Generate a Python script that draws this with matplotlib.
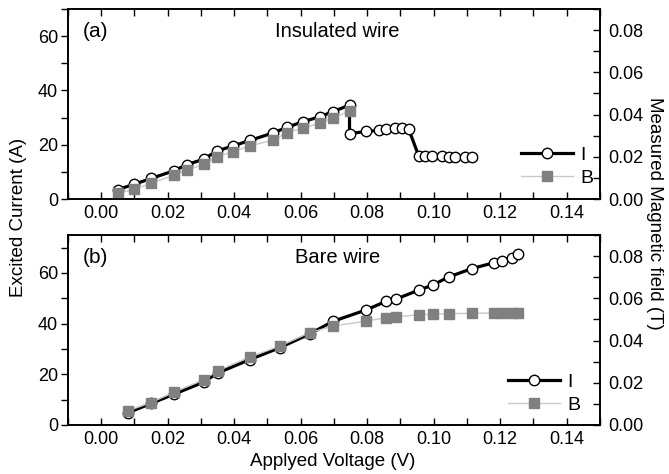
import matplotlib
matplotlib.use("Agg")
import matplotlib.pyplot as plt
from matplotlib.ticker import MultipleLocator

plt.rcParams["font.family"] = ["Liberation Sans", "DejaVu Sans"]
plt.rcParams["font.size"] = 13

# (a) insulated wire
va_I = [0.005, 0.010, 0.015, 0.0218, 0.0258, 0.0308, 0.0348, 0.0397, 0.0447,
        0.0518, 0.0558, 0.0607, 0.0657, 0.0697, 0.0747, 0.0747, 0.0797, 0.0835,
        0.0857, 0.0885, 0.0905, 0.0925, 0.0955, 0.0975, 0.0995, 0.1025, 0.1045,
        0.1065, 0.1095, 0.1115]
Ia = [3.5, 5.5, 7.6, 10.4, 12.7, 14.7, 17.7, 19.6, 21.6, 24.4, 26.4, 28.5,
      30.3, 32.2, 34.6, 24.1, 24.9, 25.3, 25.7, 26.2, 26.0, 25.8, 15.9, 15.9,
      15.9, 15.8, 15.6, 15.4, 15.6, 15.4]
va_B = [0.005, 0.010, 0.015, 0.0218, 0.0258, 0.0308, 0.0348, 0.0397, 0.0447,
        0.0518, 0.0558, 0.0607, 0.0657, 0.0697, 0.0747]
Ba = [0.0027, 0.0047, 0.0074, 0.0113, 0.0137, 0.0164, 0.0200, 0.0225, 0.0252,
      0.0279, 0.0315, 0.0335, 0.0360, 0.0384, 0.0416]

# (b) bare wire
vb = [0.008, 0.015, 0.022, 0.0308, 0.035, 0.0447, 0.0537, 0.0627, 0.0697,
      0.0797, 0.0857, 0.0887, 0.0955, 0.0997, 0.1045, 0.1115, 0.1183, 0.1205,
      0.1235, 0.1255]
Ib = [4.8, 8.5, 12.2, 16.9, 20.5, 25.8, 30.5, 35.9, 40.9, 45.4, 48.8, 49.7,
      53.2, 55.2, 58.4, 61.7, 64.1, 64.7, 65.8, 67.3]
Bb = [0.0067, 0.0106, 0.0156, 0.0214, 0.0257, 0.0322, 0.0373, 0.0437, 0.0468,
      0.0492, 0.0508, 0.0513, 0.0521, 0.0524, 0.0527, 0.0529, 0.0530, 0.0530,
      0.0530, 0.0530]

fig = plt.figure(figsize=(6.69, 4.74), dpi=100)
ax1 = fig.add_axes([0.1016, 0.580, 0.795, 0.401])
ax2 = fig.add_axes([0.1016, 0.1034, 0.795, 0.401])


def panel(ax, xI, I, xB, B, ymax, tag, title, leg_xy):
    axr = ax.twinx()
    hI, = ax.plot(xI, I, "-o", color="black", lw=2.3, ms=7.5,
                  mfc="white", mec="black", mew=1.0, label="I")
    hB, = axr.plot(xB, B, "-s", color="#c8c8c8", lw=1.0, ms=6.5,
                   mfc="#808080", mec="#808080", label="B")
    ax.set_xlim(-0.01, 0.15)
    ax.set_ylim(0, ymax)
    axr.set_ylim(0, 0.09)
    ax.xaxis.set_major_locator(MultipleLocator(0.02))
    ax.xaxis.set_minor_locator(MultipleLocator(0.01))
    ax.yaxis.set_major_locator(MultipleLocator(20))
    ax.yaxis.set_minor_locator(MultipleLocator(10))
    axr.yaxis.set_major_locator(MultipleLocator(0.02))
    axr.yaxis.set_minor_locator(MultipleLocator(0.01))
    ax.xaxis.set_major_formatter(plt.FormatStrFormatter("%.2f"))
    axr.yaxis.set_major_formatter(plt.FormatStrFormatter("%.2f"))
    ax.tick_params(axis="x", which="both", direction="in", top=True,
                   length=5, width=1, pad=4)
    ax.tick_params(axis="y", which="both", direction="out", length=5, width=1,
                   pad=2)
    axr.tick_params(axis="y", which="both", direction="in", length=5, width=1,
                    pad=6)
    for a in (ax, axr):
        for s in a.spines.values():
            s.set_linewidth(1.2)
    ax.text(0.028, 0.88, tag, transform=ax.transAxes, va="center", ha="left",
            fontsize=15)
    ax.text(0.507, 0.88, title, transform=ax.transAxes, va="center",
            ha="center", fontsize=14.5)
    axr.legend([hI, hB], ["I", "B"], frameon=False, loc="lower left",
               bbox_to_anchor=leg_xy, borderpad=0, borderaxespad=0,
               handlelength=2.7, handletextpad=0.35, labelspacing=0.25,
               fontsize=14)
    return axr


panel(ax1, va_I, Ia, va_B, Ba, 70, "(a)", "Insulated wire", (0.851, 0.065))
panel(ax2, vb, Ib, vb, Bb, 75, "(b)", "Bare wire", (0.827, 0.06))

fig.text(0.498, 1 - 462 / 474, "Applyed Voltage (V)", va="center",
         ha="center", fontsize=13.5)
fig.text(19 / 669, 1 - 217 / 474, "Excited Current (A)", rotation=90,
         va="center", ha="center", fontsize=13.5)
fig.text(655 / 669, 1 - 213 / 474, "Measured Magnetic field (T)",
         rotation=-90, va="center", ha="center", fontsize=13.5)

fig.savefig("out.png", dpi=100)
